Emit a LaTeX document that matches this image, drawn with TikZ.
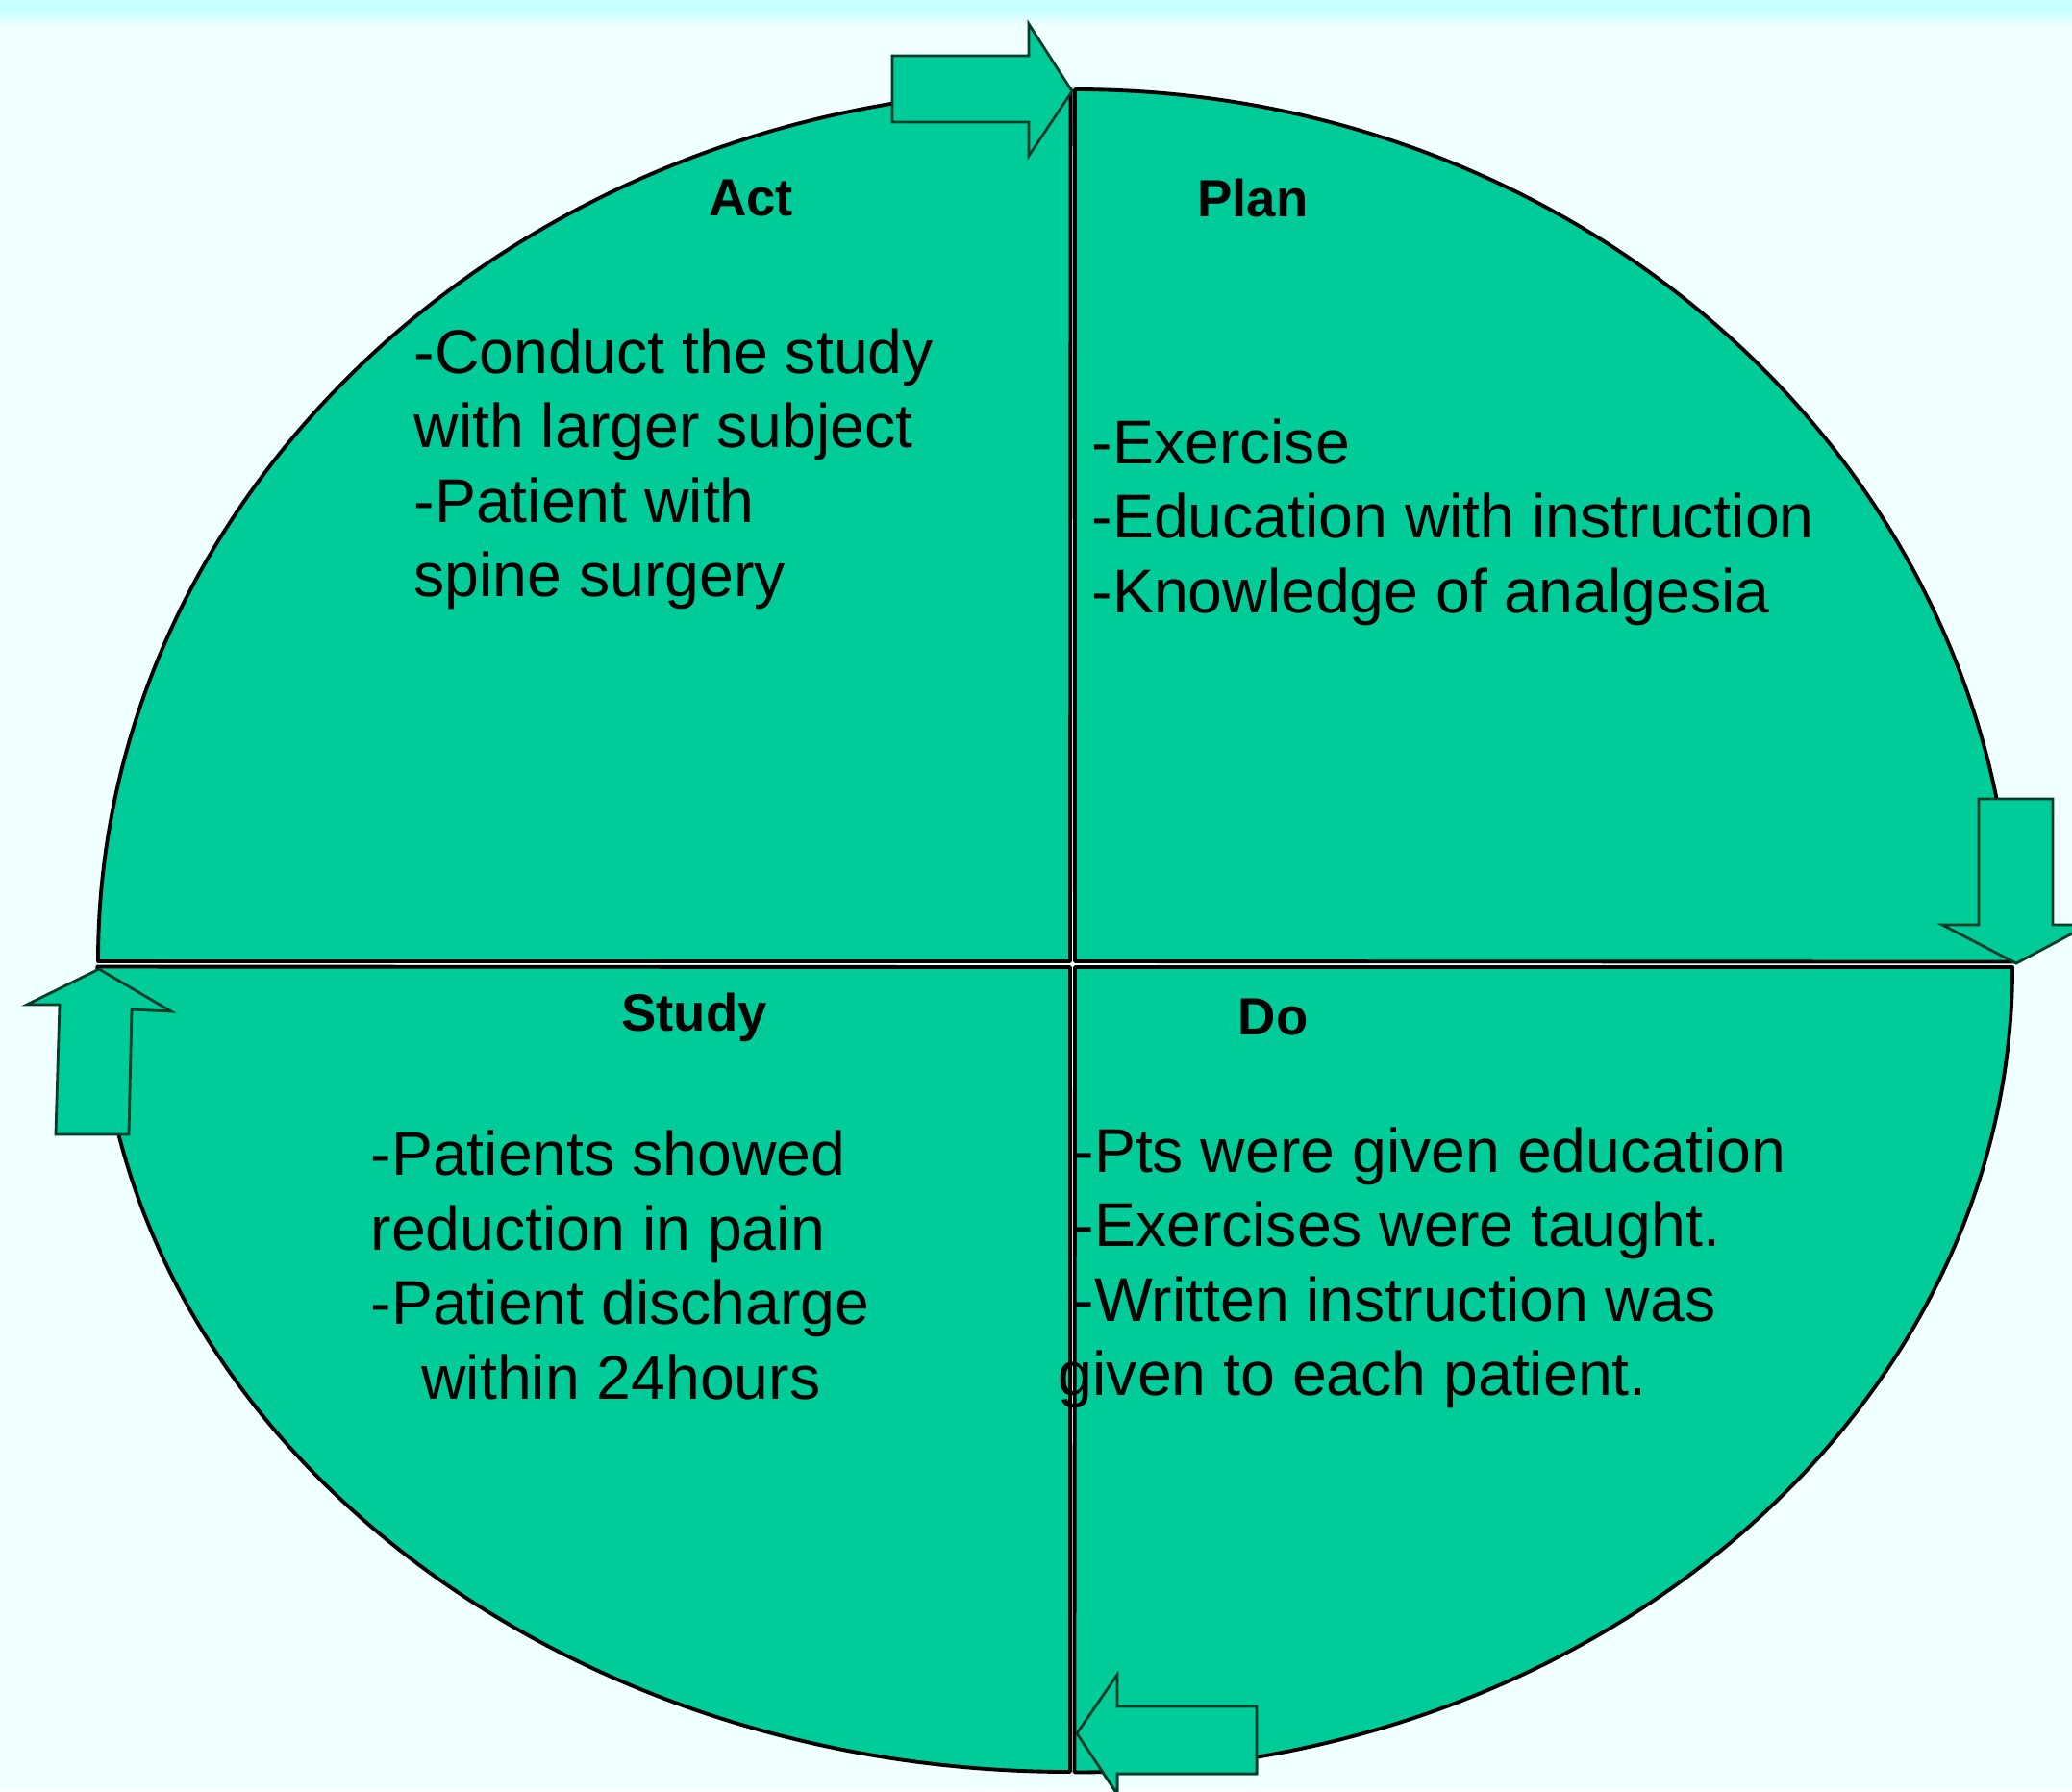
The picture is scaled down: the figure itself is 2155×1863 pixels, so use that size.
\documentclass[tikz,border=0pt]{standalone}
\usepackage{fontspec}
\setmainfont{Liberation Sans}
\definecolor{bgc}{RGB}{240,255,255}
\definecolor{bandc}{RGB}{200,255,255}
\definecolor{pdca}{RGB}{0,204,153}
\definecolor{arrowline}{RGB}{0,60,40}
\tikzset{
  quad/.style={fill=pdca, draw=black, line width=1.1pt, line join=round},
  blockarrow/.style={fill=pdca, draw=arrowline, line width=0.8pt, line join=miter},
  heading/.style={font=\fontsize{15.5}{18}\selectfont\bfseries, inner sep=0pt},
  bodytext/.style={font=\fontsize{18.3}{22}\selectfont, align=left, anchor=west, inner sep=0pt}
}
\begin{document}
\begin{tikzpicture}[x=0.01cm, y=-0.01cm]
\useasboundingbox (0,0) rectangle (2155,1863);
\fill[bgc] (0,0) rectangle (2155,1863);
\fill[bandc] (0,0) rectangle (2155,12);
\shade[top color=bandc, bottom color=bgc] (0,12) rectangle (2155,26);
\clip (0,0) rectangle (2155,1863);

% bottom arrow (partly beneath the dividers)
\draw[blockarrow] (1120,1803) -- (1162,1742) -- (1162,1775) -- (1307,1775) -- (1307,1845) -- (1162,1845) -- (1162,1866) -- cycle;

% quadrants
\draw[quad] (1113,1000) -- (102,1000) arc[start angle=180, end angle=90, x radius=10.11cm, y radius=9.07cm] -- cycle;
\draw[quad] (1118,1000) -- (1118,93) arc[start angle=90, end angle=0, x radius=9.75cm, y radius=9.07cm] -- cycle;
\draw[quad] (1118,1006) -- (2093,1006) arc[start angle=0, end angle=-90, x radius=9.75cm, y radius=8.37cm] -- cycle;
\draw[quad] (1113,1006) -- (1113,1843) arc[start angle=270, end angle=180, x radius=10.11cm, y radius=8.37cm] -- cycle;

% bottom arrow outline over the fill, dividers still visible
\draw[blockarrow] (1120,1803) -- (1162,1742) -- (1162,1775) -- (1307,1775) -- (1307,1845) -- (1162,1845) -- (1162,1866) -- cycle;
\draw[black, line width=0.8pt] (1113,1700) -- (1113,1843) (1118,1700) -- (1118,1843);

% other arrows
\draw[blockarrow] (928,58) -- (1070,58) -- (1070,25) -- (1115,95) -- (1070,162) -- (1070,127) -- (928,127) -- cycle;
\draw[blockarrow] (2058,831) -- (2135,831) -- (2135,962) -- (2172,962) -- (2097,1002) -- (2020,962) -- (2058,962) -- cycle;
\draw[blockarrow] (103,1008) -- (178,1052) -- (137,1050) -- (134,1180) -- (58,1180) -- (62,1045) -- (28,1045) -- cycle;

% headings
\node[heading] (act) at (781,206) {Act};
\node[heading] (plan) at (1303,206) {Plan};
\node[heading] (study) at (722,1058) {Study};
\node[heading] (do) at (1324,1058) {Do};

% bodies
\node[bodytext] (actbody) at (430,488) {-Conduct the study\\with larger subject\\-Patient with\\spine surgery};
\node[bodytext] (planbody) at (1135,543) {-Exercise\\-Education with instruction\\-Knowledge of analgesia};
\node[bodytext] (studybody) at (385,1316) {-Patients showed\\reduction in pain\\-Patient discharge\\\hspace*{15pt}within 24hours};
\node[bodytext] (dobody) at (1116,1319) {-Pts were given education\\-Exercises were taught.\\-Written instruction was\\\hspace*{-4.5pt}given to each patient.};
\end{tikzpicture}
\end{document}
